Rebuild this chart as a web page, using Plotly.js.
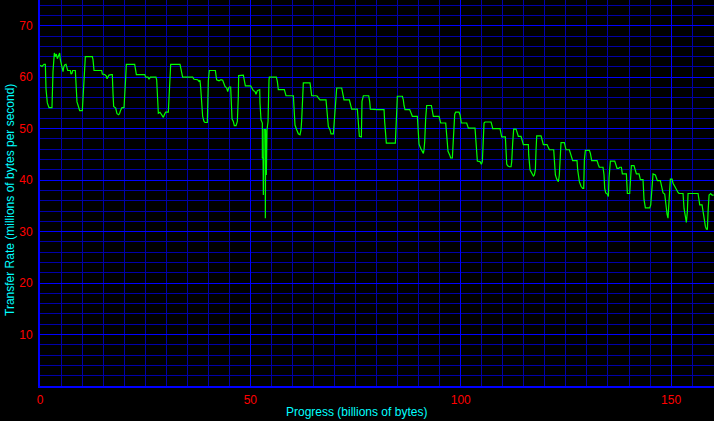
<!DOCTYPE html>
<html>
<head>
<meta charset="utf-8">
<script src="https://cdn.plot.ly/plotly-3.0.1.min.js"></script>
<style>
html,body{margin:0;padding:0;background:#000;}
#chart{width:714px;height:421px;}
</style>
</head>
<body>
<div id="chart"></div>
<script>
// Progress (billions of bytes)
const progress = [
0,0.48,0.95,1.27,1.43,1.74,2.14,2.85,3.09,3.41,3.64,3.88,4.12,4.44,4.67,4.83,5.07,5.23,5.47,5.63,5.86,6.18,6.42,6.58,7.21,7.37,7.61,7.76,8.40,8.56,8.79,9.03,9.27,9.43,10.06,10.22,10.54,10.78,12.44,12.60,12.84,13.55,13.79,14.66,14.82,15.37,15.77,15.93,16.16,16.40,16.96,17.19,17.35,17.51,17.99,18.30,18.70,18.94,19.17,19.49,19.97,20.13,20.36,20.52,22.50,22.66,22.90,24.88,25.12,25.67,25.91,26.23,26.54,27.57,27.73,27.97,28.13,28.52,28.92,29.32,29.55,29.87,30.50,30.66,30.82,31.06,33.28,33.52,33.75,33.91,36.29,36.61,37.48,37.79,38.03,38.19,38.43,38.66,38.98,39.22,39.77,40.01,40.25,41.68,41.84,41.99,42.55,43.02,43.42,43.66,43.97,44.37,44.61,44.84,45.00,45.32,45.40,45.64,45.95,46.19,46.59,46.91,47.14,47.22,48.33,48.57,48.81,50.07,50.31,50.71,51.11,51.34,51.66,52.06,52.22,52.29,52.53,52.85,52.85,53.01,53.09,53.17,53.24,53.56,53.56,53.64,53.80,53.96,54.20,54.27,54.43,54.51,56.18,56.41,56.65,58.08,58.47,60.22,60.38,60.61,61.01,61.40,61.80,62.04,62.20,62.36,62.59,64.18,64.34,64.58,65.61,65.92,66.16,66.56,67.98,68.30,68.54,68.93,69.17,69.73,69.96,70.28,70.52,71.71,71.94,72.26,73.53,73.92,74.08,75.43,75.75,75.91,76.38,76.54,76.86,78.12,78.36,78.52,80.18,81.77,81.93,82.24,82.32,84.46,84.54,84.78,84.94,86.13,86.36,86.52,86.76,87.87,88.26,88.50,89.69,89.93,90.09,90.48,90.88,91.12,91.28,91.44,91.67,91.91,93.02,93.26,93.49,94.84,95.24,96.43,96.66,96.82,96.98,97.38,97.62,98.01,98.17,98.41,98.57,98.80,99.60,99.83,100.15,101.42,101.81,103.40,103.56,103.95,104.59,104.90,105.14,105.30,105.54,105.78,107.20,107.44,107.60,109.34,109.74,110.61,110.77,110.93,111.16,111.56,111.96,112.12,112.35,112.59,113.15,113.38,113.70,114.33,114.49,114.89,116.08,116.16,116.47,116.71,117.11,117.27,117.50,117.74,117.90,118.06,119.09,119.32,119.64,120.51,120.83,121.07,122.10,122.26,122.50,122.81,123.21,123.44,123.60,123.84,124.63,125.03,125.82,126.22,126.61,127.64,127.80,128.20,128.59,128.99,129.23,129.39,129.63,130.58,130.82,131.13,132.40,132.71,132.94,133.82,134.06,134.22,134.46,134.85,135.09,135.25,135.57,136.60,136.84,137.15,137.55,137.79,138.18,138.42,139.37,139.61,140.16,140.32,140.56,141.19,141.51,141.75,142.38,142.70,143.33,143.57,143.89,144.92,145.16,145.47,145.71,146.27,146.50,146.74,147.45,147.69,148.09,148.48,148.72,149.04,149.27,149.43,149.67,149.83,150.23,150.46,150.86,151.25,151.65,151.89,152.84,153.08,153.40,153.63,153.87,154.03,156.41,156.65,156.81,157.36,157.60,157.84,158.15,158.39,158.63,158.79,159.03,159.42,159.74,160.13
];
// Transfer rate (millions of bytes per second)
const rate = [
62.3,62.1,62.5,62.5,57.7,55.0,54.1,54.1,61.1,64.7,64.0,64.5,63.6,64.5,64.7,63.4,62.4,61.4,61.1,61.9,62.4,62.5,61.8,61.3,61.3,60.6,60.8,61.3,61.3,58.2,55.2,54.6,54.0,53.5,53.5,55.9,60.5,64.0,64.0,63.4,61.3,61.2,61.3,61.3,60.6,60.5,60.2,59.7,60.2,60.4,60.5,60.5,56.9,54.3,54.0,52.9,52.7,53.0,53.6,54.1,54.1,55.9,59.8,62.5,62.5,61.7,60.5,60.5,60.0,60.0,59.6,60.0,60.0,60.0,59.5,55.9,53.0,53.2,52.6,52.2,52.7,53.2,53.2,56.4,61.1,62.5,62.5,61.8,60.6,60.0,60.0,59.6,59.5,59.2,59.4,58.0,54.3,52.4,51.4,51.2,51.2,59.3,61.3,61.3,60.3,59.5,59.3,59.5,59.4,58.7,58.2,57.9,57.2,57.9,58.1,58.1,54.8,51.9,51.4,50.6,50.6,51.4,56.3,60.3,60.4,59.2,58.3,58.3,57.9,57.4,57.2,56.7,57.4,57.6,57.6,55.0,51.7,51.1,44.3,44.3,37.1,43.9,49.8,49.8,32.6,49.8,41.0,49.8,51.4,56.4,59.5,60.0,60.0,59.2,57.6,57.6,56.4,56.4,54.0,50.7,49.8,49.0,48.8,49.8,51.7,56.9,58.9,58.9,57.6,56.4,56.4,56.3,56.0,55.6,55.6,53.3,50.4,49.8,49.0,49.0,51.7,55.3,57.9,57.9,56.9,55.6,55.6,54.6,53.8,53.8,51.1,48.5,48.4,55.3,56.4,56.4,55.3,53.8,53.7,53.7,51.3,48.0,47.2,47.2,48.7,53.3,56.3,56.3,55.6,54.5,53.7,53.7,52.6,52.4,52.4,50.1,47.0,46.2,45.7,45.2,45.9,47.5,52.0,54.5,54.5,53.5,52.4,52.4,51.1,51.1,48.8,46.9,45.6,44.9,44.3,44.3,46.9,50.1,52.8,53.2,53.2,52.7,51.1,51.1,50.1,50.1,47.8,43.7,43.6,43.1,43.6,46.9,51.1,51.3,51.3,50.6,50.0,50.0,48.4,48.4,45.9,43.1,42.8,42.6,42.6,43.6,47.2,49.9,49.9,49.3,48.5,48.5,48.0,46.9,46.9,44.9,42.0,41.7,41.2,40.8,41.0,42.0,45.8,48.6,48.6,47.8,46.9,46.9,46.4,45.9,45.9,43.9,41.0,40.2,39.7,41.0,44.6,47.3,47.3,45.9,45.9,44.7,43.8,43.8,42.0,39.7,38.8,38.4,38.4,43.9,45.8,45.8,45.2,43.8,43.8,43.0,42.5,42.5,41.0,38.4,37.5,37.3,36.8,40.4,43.7,43.7,43.0,42.3,42.3,42.5,42.5,41.2,41.2,37.4,37.4,40.7,42.8,42.8,41.7,41.2,41.2,40.1,40.1,36.2,34.6,34.6,35.2,38.8,41.2,41.0,40.6,39.9,39.9,38.9,37.5,37.3,34.9,33.4,32.6,34.5,37.8,40.2,40.2,39.4,38.8,38.1,37.6,37.4,37.4,34.5,32.3,31.8,33.9,37.4,37.4,36.2,35.2,35.2,33.9,31.9,31.0,30.5,30.5,33.9,37.1,37.4,37.1,37.1
];
const xTickVals = [0, 50, 100, 150];
const xTickText = ["0", "50", "100", "150"];
const yTickVals = [10, 20, 30, 40, 50, 60, 70];
const yTickText = ["10", "20", "30", "40", "50", "60", "70"];

const MAJOR = "#0000FF", MINOR = "#0000A8";
const tickFont = {family: "Liberation Sans, Arial, sans-serif", size: 12, color: "#FF0000"};
const titleFont = {family: "Liberation Sans, Arial, sans-serif", size: 12, color: "#00FFFF"};

const trace = {
  x: progress, y: rate, type: "scatter", mode: "lines",
  line: {color: "#00FF00", width: 1.2}, hoverinfo: "skip"
};

const layout = {
  width: 714, height: 421,
  paper_bgcolor: "#000000", plot_bgcolor: "#000000",
  margin: {l: 40, r: 0, t: 0, b: 35, pad: 0},
  showlegend: false,
  xaxis: {
    range: [0, 160.2], tickvals: xTickVals, ticktext: xTickText,
    tickfont: tickFont, ticks: "outside", ticklen: 2, tickcolor: "#000000",
    showgrid: true, gridcolor: MAJOR, gridwidth: 1,
    minor: {dtick: 5, tick0: 0, showgrid: true, gridcolor: MINOR, gridwidth: 1, ticks: ""},
    zeroline: false, showline: true, linecolor: MAJOR, linewidth: 2, mirror: false
  },
  yaxis: {
    range: [0, 75], tickvals: yTickVals, ticktext: yTickText,
    tickfont: tickFont, ticks: "outside", ticklen: 3, tickcolor: "#000000",
    showgrid: true, gridcolor: MAJOR, gridwidth: 1,
    minor: {dtick: 2, tick0: 0, showgrid: true, gridcolor: MINOR, gridwidth: 1, ticks: ""},
    zeroline: false, showline: true, linecolor: MAJOR, linewidth: 2, mirror: false
  },
  annotations: [
    {text: "Progress (billions of bytes)", xref: "paper", yref: "paper",
     x: 0.469, y: -0.067, xanchor: "center", yanchor: "middle", showarrow: false, font: titleFont},
    {text: "Transfer Rate (millions of bytes per second)", xref: "paper", yref: "paper",
     x: -0.0445, y: 0.482, xanchor: "center", yanchor: "middle", textangle: -90, showarrow: false, font: titleFont}
  ]
};

Plotly.newPlot("chart", [trace], layout, {staticPlot: true, displayModeBar: false});
</script>
</body>
</html>
